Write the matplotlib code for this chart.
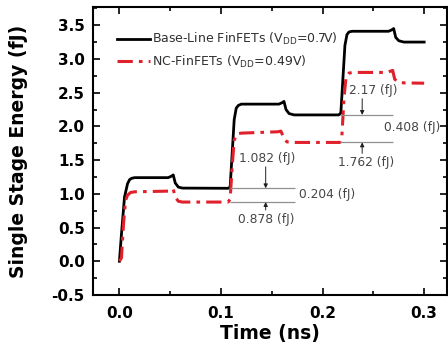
import numpy as np
import matplotlib.pyplot as plt
from matplotlib.ticker import MultipleLocator

plt.rcParams['font.family'] = ['DejaVu Sans']
plt.rcParams['mathtext.default'] = 'regular'
plt.rcParams['axes.unicode_minus'] = False

# Base-line FinFET curve (time in ns, energy in fJ)
t_base = [0.0, 0.002, 0.005, 0.008, 0.010, 0.012, 0.015, 0.048, 0.051, 0.053, 0.055, 0.058,
          0.062, 0.107, 0.109, 0.111, 0.113, 0.115, 0.117, 0.120, 0.157, 0.160, 0.162, 0.164,
          0.167, 0.172, 0.216, 0.218, 0.220, 0.222, 0.224, 0.226, 0.229, 0.265, 0.268, 0.270,
          0.272, 0.275, 0.280, 0.300]
e_base = [0.0, 0.40, 0.95, 1.15, 1.21, 1.23, 1.24, 1.24, 1.26, 1.28, 1.16, 1.10,
          1.085, 1.082, 1.10, 1.60, 2.10, 2.27, 2.31, 2.33, 2.33, 2.35, 2.37, 2.25,
          2.19, 2.17, 2.17, 2.20, 2.70, 3.20, 3.36, 3.40, 3.41, 3.41, 3.43, 3.45,
          3.32, 3.27, 3.25, 3.25]

# NC-FinFET curve
t_nc = [0.0, 0.002, 0.004, 0.006, 0.008, 0.011, 0.015, 0.048, 0.051, 0.053, 0.055, 0.058,
        0.062, 0.107, 0.109, 0.111, 0.113, 0.116, 0.120, 0.156, 0.159, 0.162, 0.165,
        0.170, 0.217, 0.219, 0.221, 0.223, 0.226, 0.230, 0.264, 0.267, 0.269, 0.271,
        0.274, 0.280, 0.300]
e_nc = [0.0, 0.05, 0.55, 0.90, 0.98, 1.02, 1.03, 1.04, 1.05, 1.07, 0.95, 0.89,
        0.878, 0.878, 0.92, 1.40, 1.80, 1.89, 1.90, 1.92, 1.93, 1.82, 1.77,
        1.762, 1.762, 1.85, 2.40, 2.72, 2.79, 2.80, 2.80, 2.82, 2.83, 2.70,
        2.66, 2.645, 2.64]

base_label = 'Base-Line FinFETs (V$_{DD}$=0.7V)'
nc_label = 'NC-FinFETs (V$_{DD}$=0.49V)'

fig = plt.figure(figsize=(4.48, 3.52), dpi=100)
ax = fig.add_axes([93 / 448, 1 - 295 / 352, (447 - 93) / 448, (295 - 7) / 352])

ax.plot(t_base, e_base, color='black', lw=2.0, label=base_label)
ax.plot(t_nc, e_nc, color='#e0202a', lw=2.2, ls=(0, (5, 2, 1.2, 2)), label=nc_label)

# annotation markers
gray = '#909090'
txt = '#454545'
ax.hlines([1.082, 0.878], 0.109, 0.173, color=gray, lw=0.9)
ax.hlines([2.17, 1.762], 0.217, 0.269, color=gray, lw=0.9)
arr = dict(arrowstyle='-|>', color='#202020', lw=0.7, mutation_scale=6,
           shrinkA=0, shrinkB=0)
ax.annotate('', xy=(0.144, 1.082), xytext=(0.144, 1.40), arrowprops=arr)
ax.annotate('', xy=(0.144, 0.878), xytext=(0.144, 0.76), arrowprops=arr)
ax.annotate('', xy=(0.239, 2.17), xytext=(0.239, 2.41), arrowprops=arr)
ax.annotate('', xy=(0.239, 1.762), xytext=(0.239, 1.60), arrowprops=arr)
fs = 8.8
ax.text(0.145, 1.52, '1.082 (fJ)', ha='center', va='center', fontsize=fs, color=txt)
ax.text(0.204, 0.99, '0.204 (fJ)', ha='center', va='center', fontsize=fs, color=txt)
ax.text(0.145, 0.62, '0.878 (fJ)', ha='center', va='center', fontsize=fs, color=txt)
ax.text(0.250, 2.53, '2.17 (fJ)', ha='center', va='center', fontsize=fs, color=txt)
ax.text(0.288, 1.98, '0.408 (fJ)', ha='center', va='center', fontsize=fs, color=txt)
ax.text(0.243, 1.46, '1.762 (fJ)', ha='center', va='center', fontsize=fs, color=txt)

ax.set_xlim(-0.026, 0.3225)
ax.set_ylim(-0.5, 3.77)
ax.xaxis.set_major_locator(MultipleLocator(0.1))
ax.xaxis.set_minor_locator(MultipleLocator(0.05))
ax.yaxis.set_major_locator(MultipleLocator(0.5))
ax.yaxis.set_minor_locator(MultipleLocator(0.25))
ax.xaxis.set_major_formatter(plt.FuncFormatter(lambda v, p: f'{v:.1f}'))
ax.tick_params(which='both', direction='in', top=True, right=True, width=1.2)
ax.tick_params(which='major', length=5, labelsize=11)
ax.tick_params(which='minor', length=3)
ax.tick_params(axis='x', pad=8)
ax.tick_params(axis='y', pad=6)
for lab in ax.get_xticklabels() + ax.get_yticklabels():
    lab.set_fontweight('bold')
for s in ax.spines.values():
    s.set_linewidth(1.5)

ax.set_xlabel('Time (ns)', fontsize=13.5, fontweight='bold', labelpad=2)
ax.set_ylabel('Single Stage Energy (fJ)', fontsize=13.5, fontweight='bold', labelpad=17)

leg = ax.legend(loc='upper left', bbox_to_anchor=(0.035, 0.955), frameon=False,
                fontsize=9, handlelength=2.7, handletextpad=0.1, labelspacing=0.5)
for t in leg.get_texts():
    t.set_color('#303030')

fig.savefig('out.png', dpi=100)
